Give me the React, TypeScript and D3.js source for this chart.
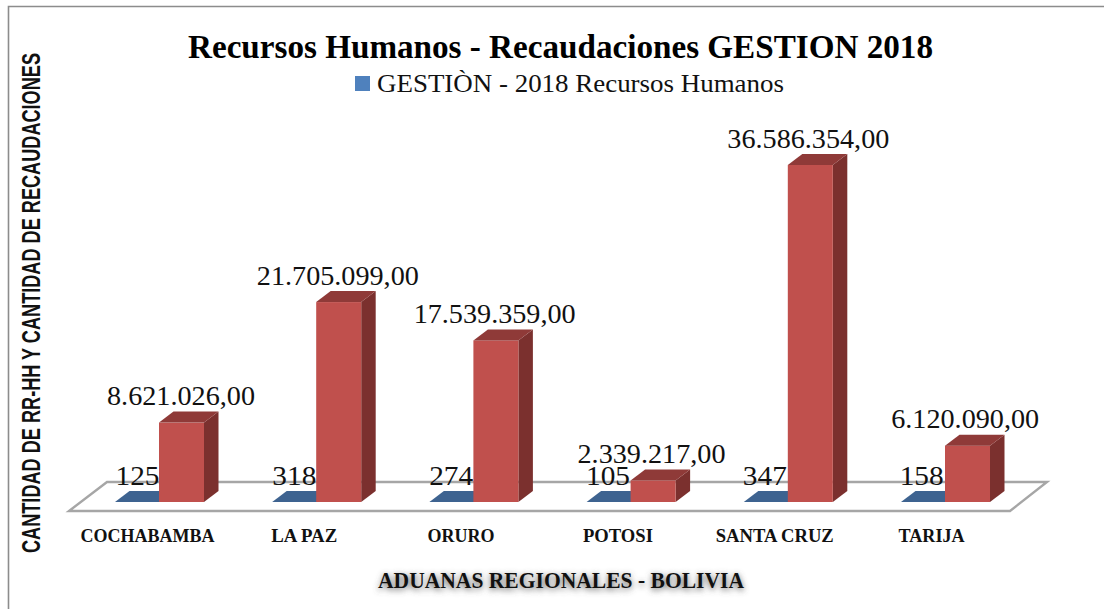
import React from "react";
import * as d3 from "d3";

const categories = ["COCHABAMBA", "LA PAZ", "ORURO", "POTOSI", "SANTA CRUZ", "TARIJA"];
const recursosHumanos = [125, 318, 274, 105, 347, 158];
const recaudaciones = [8621026, 21705099, 17539359, 2339217, 36586354, 6120090];
const recaudacionLabels = ["8.621.026,00", "21.705.099,00", "17.539.359,00", "2.339.217,00", "36.586.354,00", "6.120.090,00"];
const categoryLabelLengths = [134, 66, 67, 70, 118, 66];

const SERIF = "'Liberation Serif', serif";
const SANS = "'Liberation Sans', sans-serif";
const x = d3.scaleBand<string>().domain(categories).range([69, 1012.2]).padding(0);
const xAxis = d3.scaleBand<string>().domain(categories).range([69, 1010]).padding(0);
const y = d3.scaleLinear().domain([0, 36586354]).range([502, 165]);
const DX = 14.5;
const DY = -11;
const BAR = 45;
const BLUE_OFF = 46;
const RED_OFF = 90;
const line = d3.line();

function Bar({ left, top, colors }: { left: number; top: number; colors: string[] }) {
  const base = y(0);
  const right = left + BAR;
  const side = line([[right, top], [right + DX, top + DY], [right + DX, base + DY], [right, base]]) + "Z";
  const cap = line([[left, top], [left + DX, top + DY], [right + DX, top + DY], [right, top]]) + "Z";
  return (
    <g>
      <path d={side} fill={colors[2]} />
      <rect x={left} y={top} width={BAR} height={base - top} fill={colors[0]} />
      <path d={cap} fill={colors[1]} />
    </g>
  );
}

export default function App() {
  const floor = line([[69, 511], [1010, 511], [1047, 482], [107, 482]]) + "Z";
  return (
    <svg width={1104} height={609} style={{ position: "absolute", left: 0, top: 0, background: "#fff" }}>
      <defs>
        <filter id="blurShadow" x="-10%" y="-80%" width="120%" height="260%">
          <feGaussianBlur stdDeviation="3" />
        </filter>
      </defs>
      <path d="M1104,6.5H8.5V609" fill="none" stroke="#8c8c8c" strokeWidth={1.6} />

      <text x={560.5} y={58} textAnchor="middle" fontFamily={SERIF} fontWeight={700} fontSize={33} fill="#000"
        textLength={745} lengthAdjust="spacingAndGlyphs">Recursos Humanos - Recaudaciones GESTION 2018</text>
      <rect x={355} y={76} width={15} height={15} fill="#4F81BD" />
      <text x={377} y={92} fontFamily={SERIF} fontSize={25} fill="#111" textLength={407} lengthAdjust="spacingAndGlyphs">GESTIÒN - 2018 Recursos Humanos</text>

      <text transform="translate(40,303) rotate(-90)" textAnchor="middle" fontFamily={SANS} fontWeight={700} fontSize={26} fill="#111"
        textLength={500} lengthAdjust="spacingAndGlyphs">CANTIDAD DE RR-HH Y CANTIDAD DE RECAUDACIONES</text>

      <path d={floor} fill="#fff" stroke="#a6a6a6" strokeWidth={2.4} />

      {categories.map((c, i) => {
        const b = x(c)!;
        const a = xAxis(c)!;
        const blueTop = y(recursosHumanos[i]);
        const redTop = y(recaudaciones[i]);
        return (
          <g key={c}>
            <Bar left={b + BLUE_OFF} top={blueTop} colors={["#4F81BD", "#3E6390", "#34547a"]} />
            <text x={a + BLUE_OFF + 22.5} y={485} textAnchor="middle" fontFamily={SERIF} fontSize={27} fill="#111"
              textLength={44} lengthAdjust="spacingAndGlyphs">{recursosHumanos[i]}</text>
            <Bar left={b + RED_OFF} top={redTop} colors={["#C0504D", "#8F3A38", "#7B302E"]} />
            <text x={a + RED_OFF + 22} y={redTop - 17.5} textAnchor="middle" fontFamily={SERIF} fontSize={27} fill="#111"
              textLength={recaudacionLabels[i].length > 12 ? 162 : 148} lengthAdjust="spacingAndGlyphs">{recaudacionLabels[i]}</text>
            <text x={a + xAxis.bandwidth() / 2} y={542} textAnchor="middle" fontFamily={SERIF} fontWeight={700} fontSize={19.5} fill="#111"
              textLength={categoryLabelLengths[i]} lengthAdjust="spacingAndGlyphs">{c}</text>
          </g>
        );
      })}

      <text x={561} y={590} textAnchor="middle" fontFamily={SERIF} fontWeight={700} fontSize={23} fill="#555" filter="url(#blurShadow)"
        textLength={366} lengthAdjust="spacingAndGlyphs">ADUANAS REGIONALES - BOLIVIA</text>
      <text x={561} y={588} textAnchor="middle" fontFamily={SERIF} fontWeight={700} fontSize={23} fill="#111"
        textLength={366} lengthAdjust="spacingAndGlyphs">ADUANAS REGIONALES - BOLIVIA</text>
    </svg>
  );
}
